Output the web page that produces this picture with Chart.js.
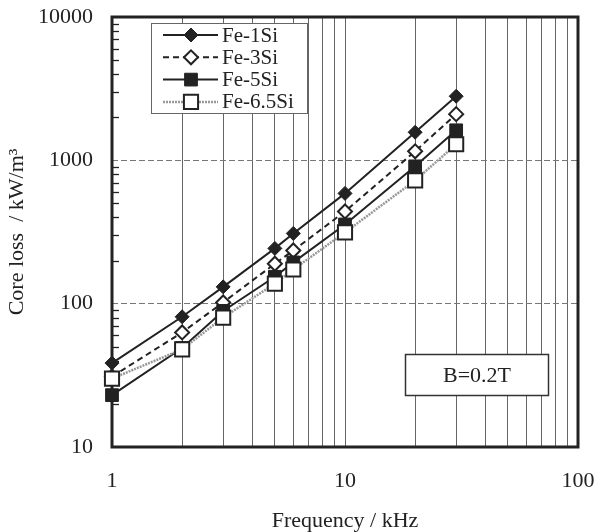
<!DOCTYPE html>
<html>
<head>
<meta charset="utf-8">
<script src="https://cdn.jsdelivr.net/npm/chart.js@4.4.1/dist/chart.umd.min.js"></script>
<style>
  html, body { margin: 0; padding: 0; background: #fff; }
  #wrap { width: 600px; height: 532px; }
</style>
</head>
<body>
<div id="wrap"><canvas id="lossChart"></canvas></div>
<script>
// frequency in kHz
const freq = [1, 2, 3, 5, 6, 10, 20, 30];
// core loss in kW/m3
const fe1Si = [38.5, 81, 131, 243, 309, 588, 1570, 2800];
const fe3Si = [31, 63, 102, 190, 235, 440, 1156, 2100];
const fe5Si = [23, 49, 89, 154, 194, 357, 908, 1620];
const fe65Si = [30, 48, 80, 138, 173, 314, 724, 1295];

const xTicks = [1, 10, 100];
const yTicks = [10, 100, 1000, 10000];

const serif = "'Liberation Serif', 'DejaVu Serif', serif";

const toPoints = (vals) => vals.map((v, i) => ({ x: freq[i], y: v }));

const isDecade = (v) => Math.abs(Math.log10(v) - Math.round(Math.log10(v))) < 1e-6;

// thick frame + inward minor ticks on the y axis
const framePlugin = {
  id: 'frame',
  beforeDatasetsDraw(chart) {
    const { ctx, chartArea: a, scales } = chart;
    ctx.save();
    ctx.strokeStyle = '#222';
    ctx.lineWidth = 1.3;
    const ys = scales.y;
    for (let d = 10; d < 10000; d *= 10) {
      for (let k = 2; k <= 9; k++) {
        const py = Math.round(ys.getPixelForValue(d * k)) + 0.5;
        ctx.beginPath();
        ctx.moveTo(a.left, py);
        ctx.lineTo(a.left + 7, py);
        ctx.stroke();
      }
    }
    ctx.lineWidth = 3;
    ctx.strokeRect(a.left, a.top, a.right - a.left, a.bottom - a.top);
    ctx.restore();
  }
};

// legend box and B=0.2T note
const boxesPlugin = {
  id: 'boxes',
  afterDraw(chart) {
    const { ctx } = chart;
    ctx.save();
    ctx.fillStyle = '#fff';
    ctx.fillRect(151, 23, 156, 90);
    ctx.strokeStyle = '#666';
    ctx.lineWidth = 1;
    ctx.strokeRect(151.5, 23.5, 156, 90);

    ctx.font = '21px ' + serif;
    ctx.textBaseline = 'middle';
    ctx.textAlign = 'left';
    chart.data.datasets.forEach((ds, i) => {
      const y = 35 + i * 22.3;
      ctx.save();
      ctx.strokeStyle = ds.borderColor;
      ctx.lineWidth = ds.borderWidth;
      ctx.setLineDash(ds.borderDash || []);
      ctx.beginPath();
      ctx.moveTo(163, y);
      ctx.lineTo(218, y);
      ctx.stroke();
      ctx.restore();
      ctx.save();
      ctx.fillStyle = ds.pointBackgroundColor;
      ctx.strokeStyle = ds.pointBorderColor;
      ctx.lineWidth = ds.pointBorderWidth;
      Chart.helpers.drawPoint(ctx, {
        pointStyle: ds.pointStyle,
        radius: ds.pointRadius,
        borderWidth: ds.pointBorderWidth,
        rotation: 0
      }, 191, y);
      ctx.restore();
      ctx.fillStyle = '#222';
      ctx.fillText(ds.label, 222, y + 1);
    });

    ctx.fillStyle = '#fff';
    ctx.fillRect(405, 354, 143, 41);
    ctx.strokeStyle = '#333';
    ctx.lineWidth = 1.5;
    ctx.strokeRect(405.5, 354.5, 143, 41);
    ctx.fillStyle = '#222';
    ctx.textAlign = 'center';
    ctx.font = '22px ' + serif;
    ctx.fillText('B=0.2T', 477, 376);
    ctx.restore();
  }
};

const ctx = document.getElementById('lossChart').getContext('2d');
new Chart(ctx, {
  type: 'line',
  data: {
    datasets: [
      {
        label: 'Fe-1Si', data: toPoints(fe1Si), order: 3,
        borderColor: '#222', borderWidth: 2,
        pointStyle: 'rectRot', pointRadius: 7,
        pointBackgroundColor: '#222', pointBorderColor: '#222', pointBorderWidth: 1
      },
      {
        label: 'Fe-3Si', data: toPoints(fe3Si), order: 2,
        borderColor: '#222', borderWidth: 2, borderDash: [6, 4],
        pointStyle: 'rectRot', pointRadius: 7,
        pointBackgroundColor: '#fff', pointBorderColor: '#222', pointBorderWidth: 2
      },
      {
        label: 'Fe-5Si', data: toPoints(fe5Si), order: 1,
        borderColor: '#222', borderWidth: 2,
        pointStyle: 'rect', pointRadius: 9,
        pointBackgroundColor: '#222', pointBorderColor: '#222', pointBorderWidth: 1
      },
      {
        label: 'Fe-6.5Si', data: toPoints(fe65Si), order: 0,
        borderColor: '#999', borderWidth: 2.5, borderDash: [2, 1],
        pointStyle: 'rect', pointRadius: 10,
        pointBackgroundColor: '#fff', pointBorderColor: '#222', pointBorderWidth: 2
      }
    ]
  },
  options: {
    responsive: true,
    maintainAspectRatio: false,
    animation: false,
    clip: false,
    layout: { padding: { top: 17, right: 22, left: 0, bottom: 0 } },
    plugins: {
      legend: { display: false },
      tooltip: { enabled: false }
    },
    scales: {
      x: {
        type: 'logarithmic',
        min: 1, max: 100,
        afterFit: (s) => { s.height = 85; s.paddingLeft = 0; s.paddingRight = 0; },
        afterBuildTicks: (s) => {
          const t = [];
          for (let d = 1; d < 100; d *= 10) for (let k = 1; k <= 9; k++) t.push({ value: d * k });
          t.push({ value: 100 });
          s.ticks = t;
        },
        ticks: {
          autoSkip: false, maxRotation: 0, padding: 21,
          color: '#222', font: { family: serif, size: 22 },
          callback: (v) => (xTicks.includes(v) ? String(v) : '')
        },
        grid: {
          drawTicks: false, color: '#666', lineWidth: 1
        },
        border: { display: false },
        title: {
          display: true, text: 'Frequency / kHz', color: '#222',
          font: { family: serif, size: 22, lineHeight: 1 }, padding: { top: 0, bottom: 0 }
        }
      },
      y: {
        type: 'logarithmic',
        min: 10, max: 10000,
        afterFit: (s) => { s.width = 112; s.paddingTop = 0; s.paddingBottom = 0; },
        afterBuildTicks: (s) => {
          const t = [];
          for (let d = 10; d < 10000; d *= 10) for (let k = 1; k <= 9; k++) t.push({ value: d * k });
          t.push({ value: 10000 });
          s.ticks = t;
        },
        ticks: {
          autoSkip: false, padding: 19,
          color: '#222', font: { family: serif, size: 22 },
          callback: (v) => (yTicks.includes(v) ? String(v) : '')
        },
        grid: {
          drawTicks: false,
          color: (c) => (isDecade(c.tick.value) ? '#777' : 'rgba(0,0,0,0)'),
          lineWidth: 1
        },
        border: { display: false, dash: [6, 3] },
        title: {
          display: true, text: 'Core loss  / kW/m\u00b3', color: '#222',
          font: { family: serif, size: 22 }, padding: { top: 4, bottom: 0 }
        }
      }
    }
  },
  plugins: [framePlugin, boxesPlugin]
});
</script>
</body>
</html>
